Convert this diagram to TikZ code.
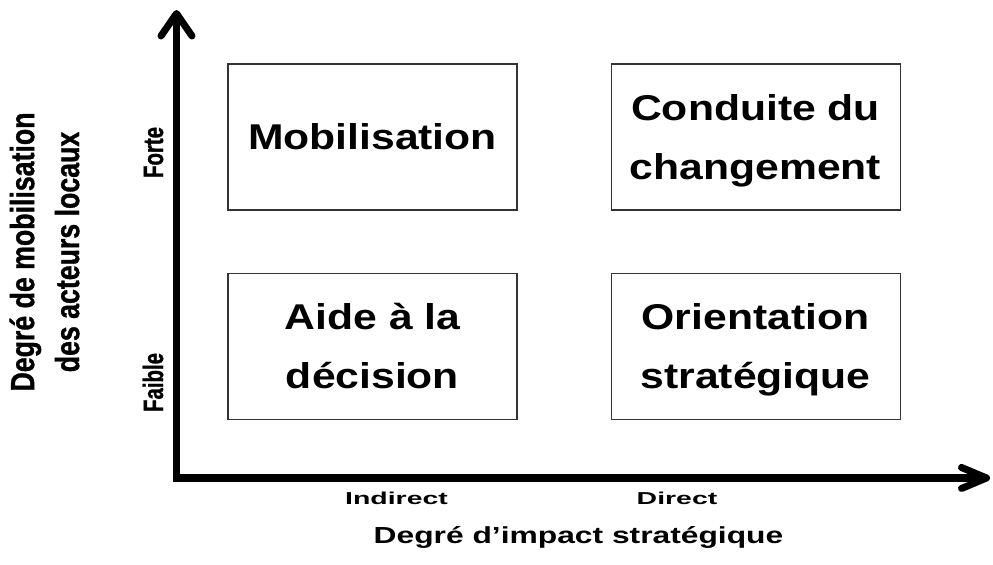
\documentclass[tikz,border=0pt]{standalone}
\usepackage{fontspec}
\setmainfont{Liberation Sans}
\newfontfamily\boxfont[FakeStretch=1.19]{Liberation Sans}
\newfontfamily\tickfont[FakeStretch=1.65]{Liberation Sans}
\newfontfamily\titlefont[FakeStretch=1.37]{Liberation Sans}
\newfontfamily\ylabfont[FakeStretch=0.80, FakeBold=1]{Liberation Sans}
\newfontfamily\levelfont[FakeStretch=0.73, FakeBold=1]{Liberation Sans}
\usetikzlibrary{arrows.meta, positioning}

\begin{document}
\begin{tikzpicture}[
    axis/.style={line width=4pt},
    cell/.style={draw=black!80, line width=0.6pt, minimum width=5.78cm,
        minimum height=2.92cm, inner sep=0pt, align=center, text depth=-0.12cm,
        font=\boxfont\bfseries\fontsize{20.4}{33.6}\selectfont},
    level/.style={rotate=90, anchor=base,
        font=\levelfont\bfseries\fontsize{15.9}{19}\selectfont},
    tick/.style={anchor=base, font=\tickfont\bfseries\fontsize{9.8}{12}\selectfont},
    node distance=1.24cm and 1.86cm
]

\useasboundingbox (0,0) rectangle (19.86,11.30);

% ===================================================================
% AXES
% ===================================================================
\coordinate (O) at (3.53,1.74);
\coordinate (ytop) at (3.53,11.10);
\coordinate (xend) at (19.80,1.74);

\draw[axis, {Straight Barb[length=0.45cm, width=0.62cm, round]}-{Straight Barb[length=0.5cm, width=0.42cm, round]}]
    (ytop) -- (O) -- (xend);

% Levels on the vertical axis
\node[level] (forte) at (3.26,8.25) {Forte};
\node[level] (faible) at (3.26,3.65) {Faible};

% Levels on the horizontal axis
\node[tick] (indirect) at (7.93,1.20) {Indirect};
\node[tick] (direct) at (13.54,1.20) {Direct};

% Axis titles
\node[anchor=base, font=\titlefont\bfseries\fontsize{13.2}{16}\selectfont]
    (xtitle) at (11.57,0.42) {Degré d’impact stratégique};
\node[rotate=90, align=center, font=\ylabfont\bfseries\fontsize{19}{25.6}\selectfont]
    (ytitle) at (0.89,6.26) {Degré de mobilisation\\des acteurs locaux};

% ===================================================================
% QUADRANTS
% ===================================================================
\node[cell] (mob) at (7.45,8.56) {Mobilisation};
\node[cell, right=of mob] (cond) {Conduite du\\changement};
\node[cell, below=of mob] (aide) {Aide à la\\décision};
\node[cell, below=of cond] (orient) {Orientation\\stratégique};

\end{tikzpicture}
\end{document}
